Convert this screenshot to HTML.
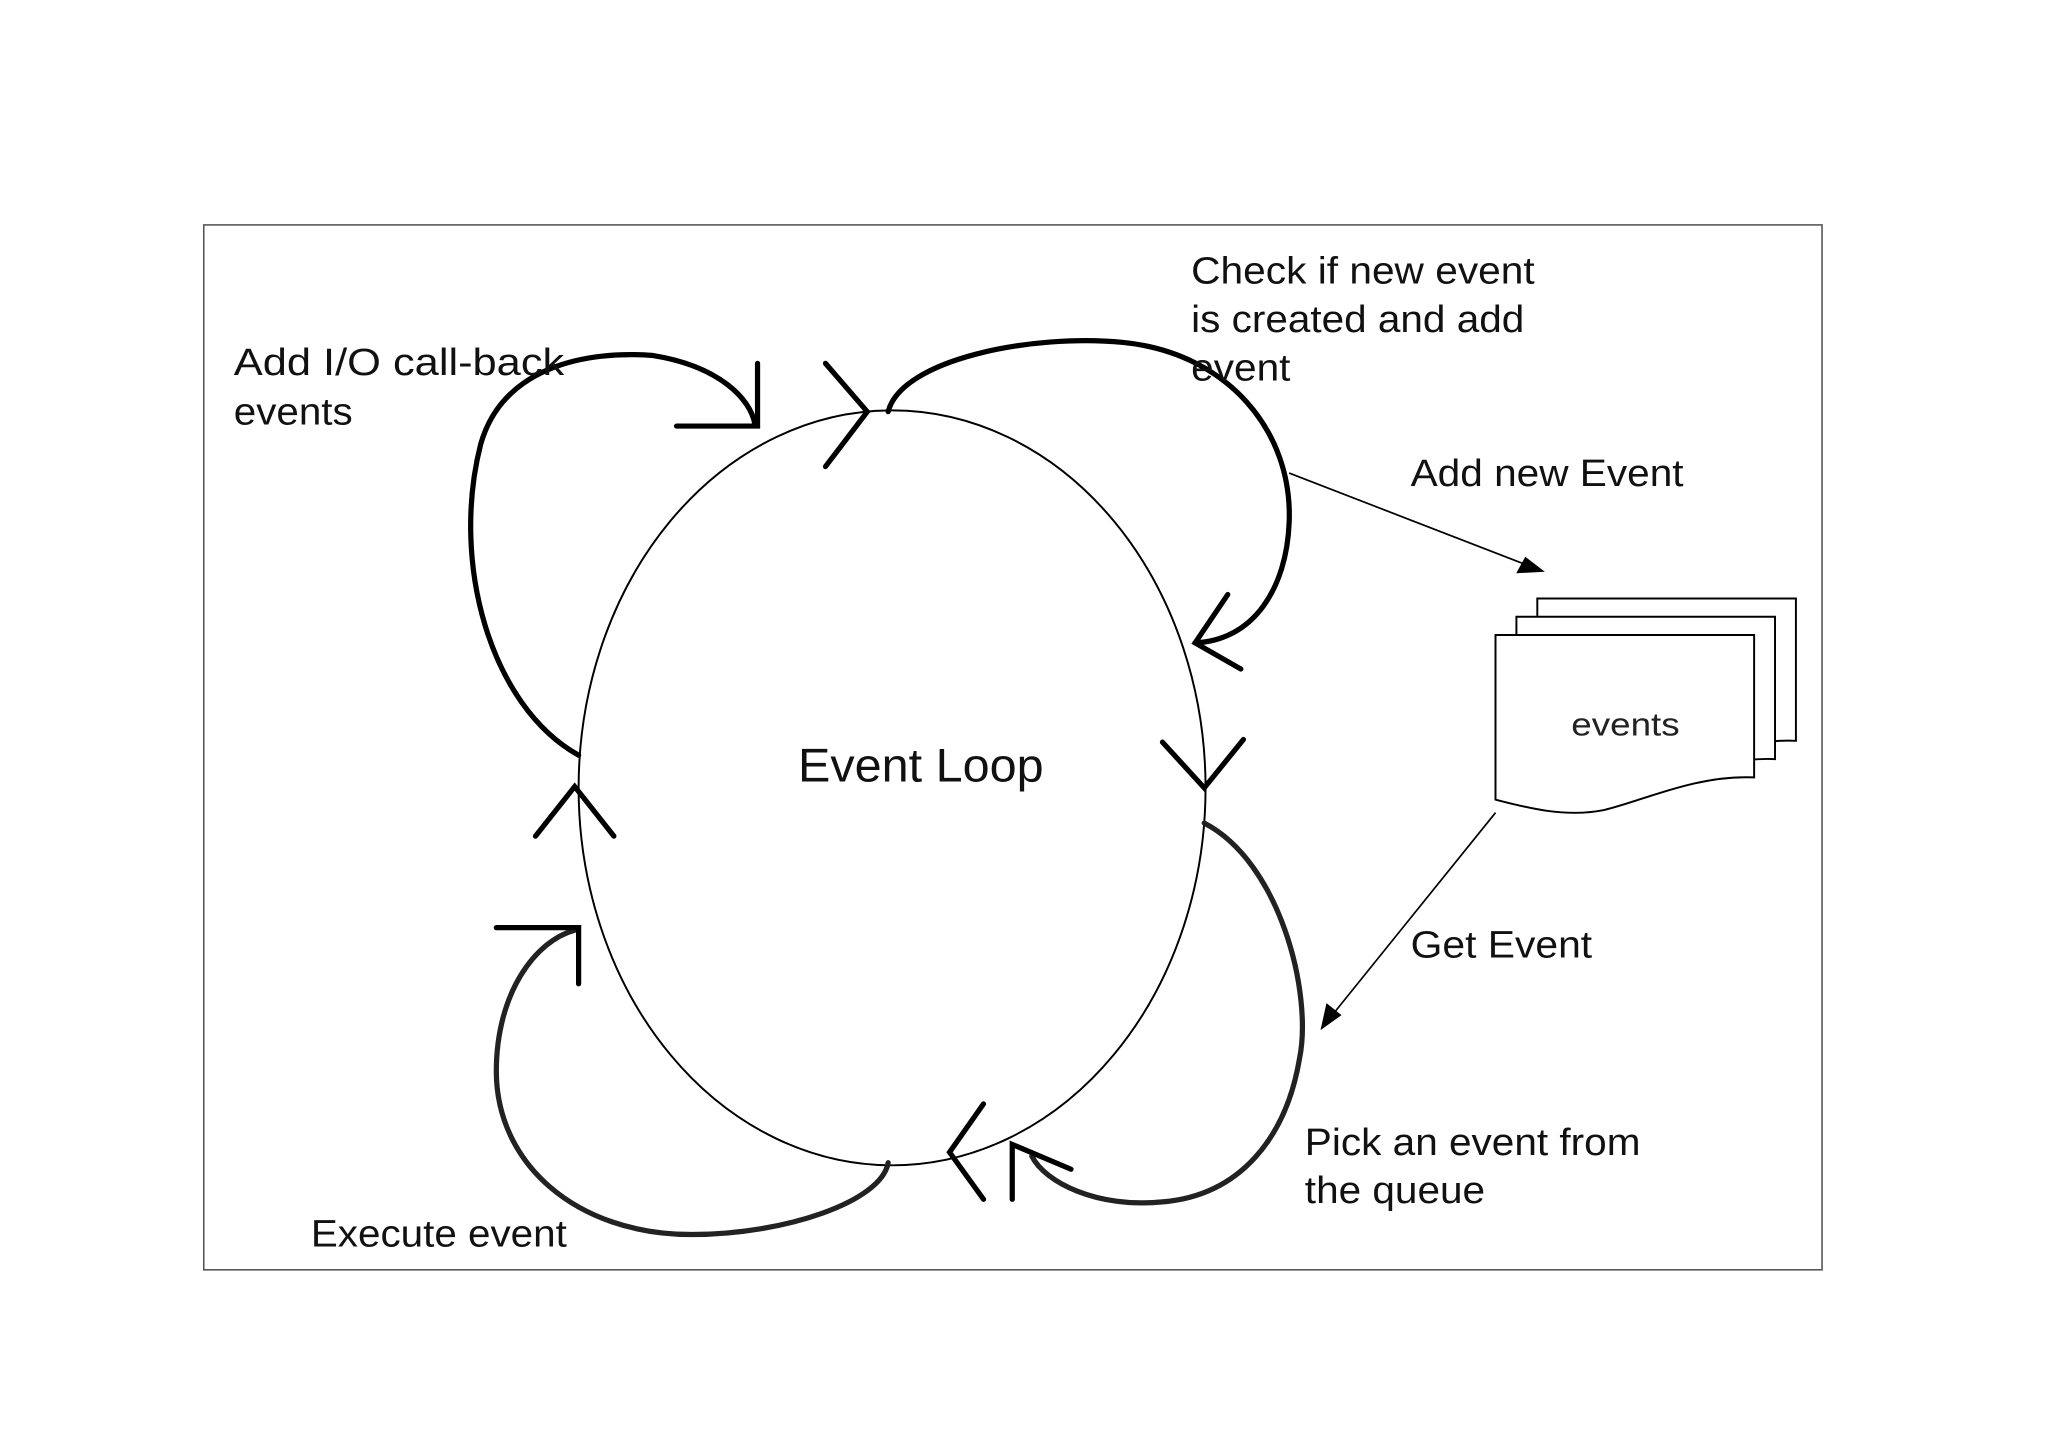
<!DOCTYPE html>
<html><head><meta charset="utf-8"><style>html,body{margin:0;padding:0;background:#fff}svg{display:block}</style></head>
<body>
<svg width="2048" height="1449" viewBox="0 0 1568 1109" xmlns="http://www.w3.org/2000/svg" font-family="Liberation Sans, sans-serif">
<rect x="156" y="172" width="1239" height="800" fill="none" stroke="#555" stroke-width="1.2"/>
<ellipse cx="683" cy="603" rx="240" ry="289" fill="none" stroke="#000" stroke-width="1.5"/>
<g fill="none" stroke="#000" stroke-width="4" stroke-linecap="round" stroke-linejoin="miter">
<path d="M443,578 C375,540 345,430 368,340 C385,280 450,268 500,272 C550,280 575,305 578,325"/>
<path d="M580,278 L580,326 L518,326"/>
<path d="M632,278 L664,315 L632,357"/>
<path d="M680,315 C690,275 790,255 860,262 C940,270 990,330 987,400 C985,450 960,490 915,492"/>
<path d="M940,455 L915,492 L950,512"/>
<path d="M890,568 L922,603 L952,566"/>
<path d="M922,630 C980,660 1005,760 995,810 C985,870 950,915 890,920 C840,925 800,905 790,885" stroke="#222"/>
<path d="M775,918 L775,876 L820,895"/>
<path d="M753,845 L727,882 L753,918"/>
<path d="M680,890 C675,920 600,945 530,945 C440,945 380,890 380,820 C380,760 410,720 440,712" stroke="#222"/>
<path d="M380,710 L443,710 L443,753"/>
<path d="M410,640 L440,602 L470,640"/>
</g>
<g stroke="#000" stroke-width="1.3" fill="#000">
<line x1="987" y1="362" x2="1168" y2="432"/>
<polygon points="1181,437 1162,438 1168,427"/>
<line x1="1145" y1="622" x2="1020" y2="777"/>
<polygon points="1012,787 1016,769 1026,777"/>
</g>
<g fill="#fff" stroke="#000" stroke-width="1.5">
<path d="M1177,458 L1375,458 L1375,567 C1330,565 1290,585 1260,592 C1230,598 1200,590 1177,585 Z"/>
<path d="M1161,472 L1359,472 L1359,581 C1314,579 1274,599 1244,606 C1214,612 1184,604 1161,599 Z"/>
<path d="M1145,486 L1343,486 L1343,595 C1298,593 1258,613 1228,620 C1198,626 1168,618 1145,612 Z"/>
</g>
<text x="1203" y="563" font-size="25" textLength="83" lengthAdjust="spacingAndGlyphs" fill="#222">events</text>
<text x="611" y="598" font-size="36" textLength="188" lengthAdjust="spacingAndGlyphs" fill="#111">Event Loop</text>
<g font-size="29" fill="#111" lengthAdjust="spacingAndGlyphs">
<text x="179" y="287" textLength="253" lengthAdjust="spacingAndGlyphs">Add  I/O  call-back</text>
<text x="179" y="325" textLength="91" lengthAdjust="spacingAndGlyphs">events</text>
<text x="912" y="217" textLength="263" lengthAdjust="spacingAndGlyphs">Check if new event</text>
<text x="912" y="254" textLength="255" lengthAdjust="spacingAndGlyphs">is created and add</text>
<text x="912" y="291" textLength="76" lengthAdjust="spacingAndGlyphs">event</text>
<text x="1080" y="372" textLength="209" lengthAdjust="spacingAndGlyphs">Add new Event</text>
<text x="1080" y="733" textLength="139" lengthAdjust="spacingAndGlyphs">Get Event</text>
<text x="999" y="884" textLength="257" lengthAdjust="spacingAndGlyphs">Pick an event from</text>
<text x="999" y="921" textLength="138" lengthAdjust="spacingAndGlyphs">the queue</text>
<text x="238" y="954" textLength="196" lengthAdjust="spacingAndGlyphs">Execute event</text>
</g>
</svg>
</body></html>
